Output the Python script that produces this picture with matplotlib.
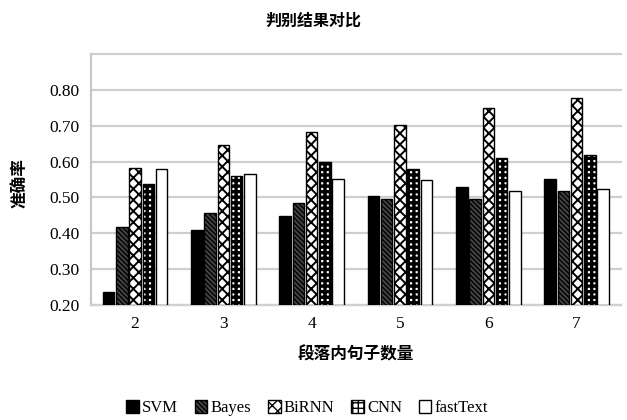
import numpy as np
import matplotlib
matplotlib.use("Agg")
import matplotlib.pyplot as plt

plt.rcParams['font.family'] = ['Liberation Serif', 'Noto Sans CJK SC']

categories = ['2', '3', '4', '5', '6', '7']
svm      = [0.237, 0.410, 0.447, 0.505, 0.528, 0.552]
bayes    = [0.418, 0.457, 0.485, 0.495, 0.495, 0.518]
birnn    = [0.583, 0.647, 0.682, 0.701, 0.750, 0.777]
cnn      = [0.538, 0.559, 0.600, 0.580, 0.610, 0.619]
fasttext = [0.580, 0.566, 0.552, 0.548, 0.517, 0.525]

series = [
    ('SVM', svm, dict(facecolor='black', hatch=None), 1.0),
    ('Bayes', bayes, dict(facecolor='#444444', hatch='\\' * 7), 1.0),
    ('BiRNN', birnn, dict(facecolor='white', hatch='xxx'), 1.4),
    ('CNN', cnn, dict(facecolor='white', hatch='+++'), 2.4),
    ('fastText', fasttext, dict(facecolor='white', hatch=None), 1.0),
]

fig = plt.figure(figsize=(6.27, 4.20), dpi=100)
ax = fig.add_axes([0.145, 0.274, 0.845, 0.597])

x = np.arange(len(categories))
step = 0.15
width = 0.13
handles = []
for i, (name, vals, style, hlw) in enumerate(series):
    with plt.rc_context({'hatch.linewidth': hlw, 'hatch.color': 'black'}):
        bars = ax.bar(x + (i - 2) * step, np.array(vals) - 0.2, width, bottom=0.2,
                      edgecolor='black', linewidth=1.0, label=name, zorder=3,
                      **style)
    handles.append(bars)

ax.set_ylim(0.2, 0.9)
ax.set_xlim(-0.5, len(categories) - 0.5)
ax.set_yticks(np.arange(0.2, 0.9001, 0.1))
ax.set_yticklabels([f'{v:.2f}' for v in np.arange(0.2, 0.8001, 0.1)] + [''])
ax.set_xticks(x)
ax.set_xticklabels(categories)
ax.tick_params(axis='both', length=0, labelsize=12.5, pad=8)
ax.grid(axis='y', color='#cfcfcf', linewidth=1.6, zorder=0)
for gl in ax.get_ygridlines():
    gl.set_clip_on(False)
for s in ['top', 'right']:
    ax.spines[s].set_visible(False)
ax.spines['left'].set_color('#c8c8c8')
ax.spines['left'].set_linewidth(1.6)
ax.spines['bottom'].set_color('#cfcfcf')
ax.spines['bottom'].set_linewidth(1.6)

cjk = {'family': ['Noto Sans CJK SC'], 'weight': 'bold'}
fig.text(0.5, 0.952, '判别结果对比', ha='center', va='center', fontsize=11.5, fontdict=cjk)
ax.set_xlabel('段落内句子数量', fontsize=12, fontdict=cjk, labelpad=10)
fig.text(0.030, 0.565, '准确率', rotation=90, ha='center', va='center', fontsize=12, fontdict=cjk)

fig.legend(handles=handles, labels=[s[0] for s in series], loc='center',
           bbox_to_anchor=(0.49, 0.028), ncol=5, frameon=False, fontsize=12,
           handlelength=0.75, handleheight=0.75, handletextpad=0.2, columnspacing=1.0)

fig.savefig('out.png', dpi=100, facecolor='white')
